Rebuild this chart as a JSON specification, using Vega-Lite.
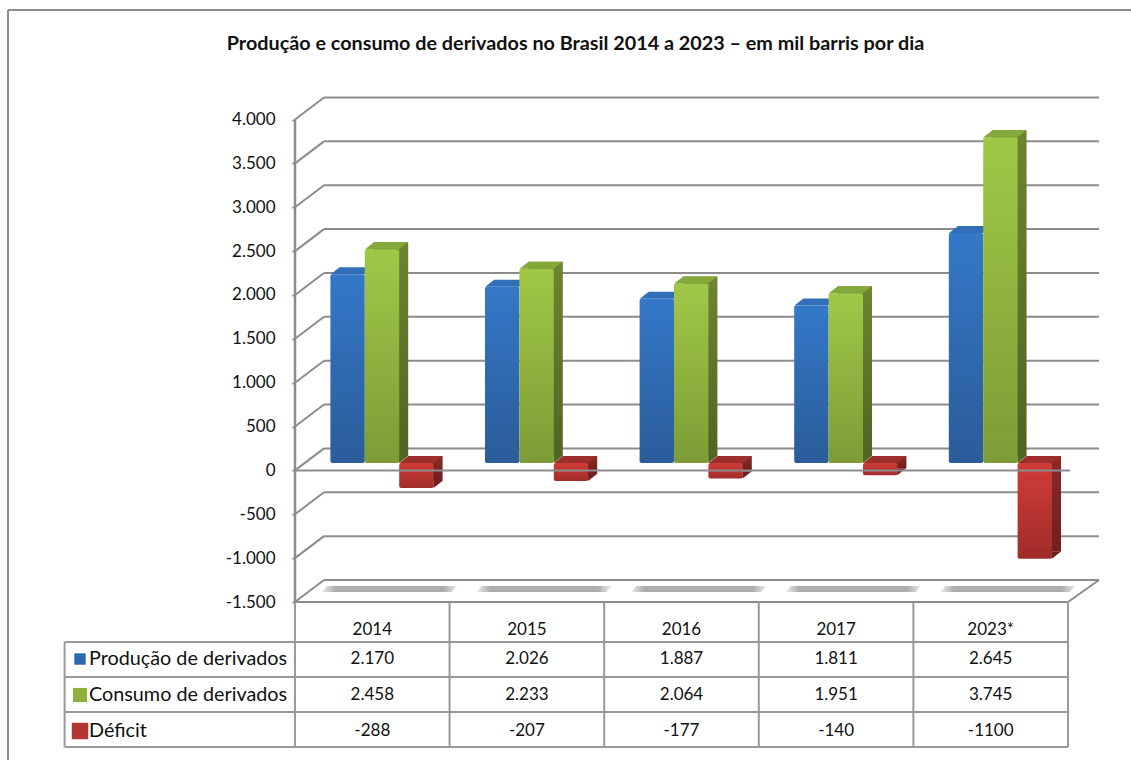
{
  "$schema": "https://vega.github.io/schema/vega-lite/v6.json",
  "width": 1131,
  "height": 760,
  "padding": 0,
  "autosize": {"type": "none"},
  "background": "white",
  "config": {"view": {"stroke": null}, "font": "Lato"},
  "title": {"text": "Produção e consumo de derivados no Brasil 2014 a 2023 – em mil barris por dia", "font": "Lato", "fontSize": 19.8, "fontWeight": "bold", "color": "#111111", "anchor": "middle", "frame": "group", "offset": -54, "dx": 10},
  "datasets": {
    "barras": [
      {"ano": "2014", "serie": "Produção de derivados", "valor": 2170, "rotulo": "2.170"},
      {"ano": "2015", "serie": "Produção de derivados", "valor": 2026, "rotulo": "2.026"},
      {"ano": "2016", "serie": "Produção de derivados", "valor": 1887, "rotulo": "1.887"},
      {"ano": "2017", "serie": "Produção de derivados", "valor": 1811, "rotulo": "1.811"},
      {"ano": "2023*", "serie": "Produção de derivados", "valor": 2645, "rotulo": "2.645"},
      {"ano": "2014", "serie": "Consumo de derivados", "valor": 2458, "rotulo": "2.458"},
      {"ano": "2015", "serie": "Consumo de derivados", "valor": 2233, "rotulo": "2.233"},
      {"ano": "2016", "serie": "Consumo de derivados", "valor": 2064, "rotulo": "2.064"},
      {"ano": "2017", "serie": "Consumo de derivados", "valor": 1951, "rotulo": "1.951"},
      {"ano": "2023*", "serie": "Consumo de derivados", "valor": 3745, "rotulo": "3.745"},
      {"ano": "2014", "serie": "Déficit", "valor": -288, "rotulo": "-288"},
      {"ano": "2015", "serie": "Déficit", "valor": -207, "rotulo": "-207"},
      {"ano": "2016", "serie": "Déficit", "valor": -177, "rotulo": "-177"},
      {"ano": "2017", "serie": "Déficit", "valor": -140, "rotulo": "-140"},
      {"ano": "2023*", "serie": "Déficit", "valor": -1100, "rotulo": "-1100"}
    ],
    "niveis": [{"v": -1500}, {"v": -1000}, {"v": -500}, {"v": 0}, {"v": 500}, {"v": 1000}, {"v": 1500}, {"v": 2000}, {"v": 2500}, {"v": 3000}, {"v": 3500}, {"v": 4000}],
    "anos": [{"ano": "2014", "linha": "ano"}, {"ano": "2015", "linha": "ano"}, {"ano": "2016", "linha": "ano"}, {"ano": "2017", "linha": "ano"}, {"ano": "2023*", "linha": "ano"}],
    "series": [{"linha": "Produção de derivados"}, {"linha": "Consumo de derivados"}, {"linha": "Déficit"}],
    "linhasTabela": [{"l": 1}, {"l": 2}, {"l": 3}, {"l": 4}],
    "colunasTabela": [{"c": 0}, {"c": 1}, {"c": 2}, {"c": 3}, {"c": 4}, {"c": 5}]
  },
  "resolve": {"scale": {"x": "independent", "y": "independent", "xOffset": "independent"}, "axis": {"x": "independent", "y": "independent"}},
  "layer": [
    {
      "description": "Moldura da figura: apenas as bordas superior e esquerda",
      "data": {"values": [{"borda": "topo"}]},
      "encoding": {
        "x": {"datum": 0, "type": "quantitative", "scale": {"domain": [0, 1], "range": [8, 1131]}, "axis": null},
        "y": {"datum": 0, "type": "quantitative", "scale": {"domain": [0, 1], "range": [10, 760]}, "axis": null}
      },
      "layer": [
        {"mark": {"type": "rule", "stroke": "#8c8c8c", "strokeWidth": 2}, "encoding": {"x2": {"datum": 1}}},
        {"mark": {"type": "rule", "stroke": "#8c8c8c", "strokeWidth": 2}, "encoding": {"y2": {"datum": 1}}}
      ]
    },
    {
      "description": "Paredes em perspectiva: linhas de grade, diagonais e piso",
      "data": {"name": "niveis"},
      "encoding": {
        "x": {"datum": 0, "type": "quantitative", "scale": {"domain": [0, 5], "range": [295, 1068]}, "axis": null},
        "y": {
          "field": "v", "type": "quantitative",
          "scale": {"domain": [-1500, 4000], "range": [602, 119.5], "nice": false, "zero": false},
          "axis": {
            "offset": -295, "title": null, "grid": false, "domain": false,
            "values": [-1500, -1000, -500, 0, 500, 1000, 1500, 2000, 2500, 3000, 3500, 4000],
            "labelExpr": "replace(replace(format(datum.value, ','), ',', '.'), '−', '-')",
            "labelFont": "Lato", "labelFontSize": 17, "labelColor": "#111111", "labelPadding": 17,
            "tickColor": "#8c8c8c", "tickSize": 3, "tickWidth": 2
          }
        }
      },
      "layer": [
        {"mark": {"type": "rule", "stroke": "#8c8c8c", "strokeWidth": 2, "xOffset": 29, "x2Offset": 31, "yOffset": -22}, "encoding": {"x2": {"datum": 5}}},
        {"mark": {"type": "rule", "stroke": "#8c8c8c", "strokeWidth": 2, "x2Offset": 29, "y2Offset": -22}, "encoding": {"x2": {"datum": 0}, "y2": {"field": "v"}}},
        {"transform": [{"filter": "datum.v === -1500"}], "mark": {"type": "rule", "stroke": "#8c8c8c", "strokeWidth": 2, "x2Offset": 31, "y2Offset": -22}, "encoding": {"x": {"datum": 5}, "x2": {"datum": 5}, "y2": {"field": "v"}}},
        {"transform": [{"filter": "datum.v === -1500"}], "mark": {"type": "rule", "stroke": "#8c8c8c", "strokeWidth": 2}, "encoding": {"x2": {"datum": 5}}}
      ]
    },
    {
      "description": "Lateral do déficit, deslocada em profundidade, e sombras no piso",
      "data": {"name": "barras"},
      "encoding": {
        "x": {"field": "ano", "type": "nominal", "scale": {"type": "band", "domain": ["2014", "2015", "2016", "2017", "2023*"], "range": [313.7, 1086.7], "paddingInner": 0, "paddingOuter": 0}, "axis": null},
        "xOffset": {"field": "serie", "type": "nominal", "scale": {"domain": ["Produção de derivados", "Consumo de derivados", "Déficit"], "paddingInner": 0, "paddingOuter": 0.747}},
        "y": {"field": "valor", "type": "quantitative", "scale": {"domain": [-1500, 4000], "range": [601, 122.5], "nice": false, "zero": false}, "axis": null}
      },
      "layer": [
        {
          "transform": [{"filter": "datum.serie === 'Consumo de derivados'"}],
          "mark": {"type": "point", "filled": true, "opacity": 1, "size": 4, "yOffset": -12, "shape": "M-69,3 L61,3 L66,-3 L-64,-3 Z", "fill": {"gradient": "linear", "x1": 0, "y1": 0, "x2": 1, "y2": 0, "stops": [{"offset": 0, "color": "#ececec"}, {"offset": 0.1, "color": "#adadad"}, {"offset": 0.9, "color": "#adadad"}, {"offset": 1, "color": "#ececec"}]}},
          "encoding": {"y": {"datum": -1500}}
        },
        {
          "transform": [{"filter": "datum.serie === 'Déficit'"}],
          "layer": [
            {"mark": {"type": "bar", "yOffset": -14.5, "y2Offset": -14.5, "fill": {"gradient": "linear", "x1": 0, "y1": 0, "x2": 0, "y2": 1, "stops": [{"offset": 0, "color": "#8a2a27"}, {"offset": 1, "color": "#6e201e"}]}}, "encoding": {"y2": {"datum": 0}}},
            {"mark": {"type": "point", "filled": true, "opacity": 1, "size": 4, "yOffset": -7.5, "shape": "M8,0 L8,-7 L17,-7 Z", "fill": "#6e201e"}}
          ]
        }
      ]
    },
    {
      "description": "Faces frontais e topos do déficit e da produção",
      "data": {"name": "barras"},
      "encoding": {
        "x": {"field": "ano", "type": "nominal", "scale": {"type": "band", "domain": ["2014", "2015", "2016", "2017", "2023*"], "range": [304.7, 1077.7], "paddingInner": 0, "paddingOuter": 0}, "axis": null},
        "xOffset": {"field": "serie", "type": "nominal", "scale": {"domain": ["Produção de derivados", "Consumo de derivados", "Déficit"], "paddingInner": 0, "paddingOuter": 0.747}},
        "y": {"field": "valor", "type": "quantitative", "scale": {"domain": [-1500, 4000], "range": [601, 122.5], "nice": false, "zero": false}, "axis": null}
      },
      "layer": [
        {
          "transform": [{"filter": "datum.serie === 'Déficit'"}],
          "layer": [
            {"mark": {"type": "bar", "cornerRadius": 2, "yOffset": -7.5, "y2Offset": -7.5, "fill": {"gradient": "linear", "x1": 0, "y1": 0, "x2": 0, "y2": 1, "stops": [{"offset": 0, "color": "#d03c38"}, {"offset": 1, "color": "#a02c2a"}]}}, "encoding": {"y2": {"datum": 0}}},
            {"mark": {"type": "point", "filled": true, "opacity": 1, "size": 4, "yOffset": -7.5, "shape": "M-17,0 L17,0 L26,-7 L-8,-7 Z", "fill": "#9e2e2b"}, "encoding": {"y": {"datum": 0}}}
          ]
        },
        {
          "transform": [{"filter": "datum.serie === 'Produção de derivados'"}],
          "layer": [
            {"mark": {"type": "point", "filled": true, "opacity": 1, "size": 4, "yOffset": -7.5, "shape": "M-17,0 L17,0 L26,-7 L-8,-7 Z", "fill": "#3170b8"}},
            {"mark": {"type": "bar", "cornerRadius": 2, "yOffset": -7.5, "y2Offset": -7.5, "fill": {"gradient": "linear", "x1": 0, "y1": 0, "x2": 0, "y2": 1, "stops": [{"offset": 0, "color": "#3478c8"}, {"offset": 1, "color": "#2a5c98"}]}}, "encoding": {"y2": {"datum": 0}}}
          ]
        }
      ]
    },
    {
      "description": "Lateral do consumo, à frente do topo do déficit",
      "data": {"name": "barras"},
      "transform": [{"filter": "datum.serie === 'Consumo de derivados'"}],
      "encoding": {
        "x": {"field": "ano", "type": "nominal", "scale": {"type": "band", "domain": ["2014", "2015", "2016", "2017", "2023*"], "range": [313.7, 1086.7], "paddingInner": 0, "paddingOuter": 0}, "axis": null},
        "xOffset": {"field": "serie", "type": "nominal", "scale": {"domain": ["Produção de derivados", "Consumo de derivados", "Déficit"], "paddingInner": 0, "paddingOuter": 0.747}},
        "y": {"field": "valor", "type": "quantitative", "scale": {"domain": [-1500, 4000], "range": [601, 122.5], "nice": false, "zero": false}, "axis": null}
      },
      "layer": [
        {"mark": {"type": "bar", "yOffset": -14.5, "y2Offset": -14.5, "fill": {"gradient": "linear", "x1": 0, "y1": 0, "x2": 0, "y2": 1, "stops": [{"offset": 0, "color": "#6b8530"}, {"offset": 1, "color": "#4f6624"}]}}, "encoding": {"y2": {"datum": 0}}},
        {"mark": {"type": "point", "filled": true, "opacity": 1, "size": 4, "yOffset": -7.5, "shape": "M8,0 L8,-7 L17,-7 Z", "fill": "#4f6624"}, "encoding": {"y": {"datum": 0}}}
      ]
    },
    {
      "description": "Face frontal e topo do consumo",
      "data": {"name": "barras"},
      "transform": [{"filter": "datum.serie === 'Consumo de derivados'"}],
      "encoding": {
        "x": {"field": "ano", "type": "nominal", "scale": {"type": "band", "domain": ["2014", "2015", "2016", "2017", "2023*"], "range": [304.7, 1077.7], "paddingInner": 0, "paddingOuter": 0}, "axis": null},
        "xOffset": {"field": "serie", "type": "nominal", "scale": {"domain": ["Produção de derivados", "Consumo de derivados", "Déficit"], "paddingInner": 0, "paddingOuter": 0.747}},
        "y": {"field": "valor", "type": "quantitative", "scale": {"domain": [-1500, 4000], "range": [601, 122.5], "nice": false, "zero": false}, "axis": null}
      },
      "layer": [
        {"mark": {"type": "bar", "cornerRadius": 2, "yOffset": -7.5, "y2Offset": -7.5, "fill": {"gradient": "linear", "x1": 0, "y1": 0, "x2": 0, "y2": 1, "stops": [{"offset": 0, "color": "#a0c846"}, {"offset": 1, "color": "#7d9c36"}]}}, "encoding": {"y2": {"datum": 0}}},
        {"mark": {"type": "point", "filled": true, "opacity": 1, "size": 4, "yOffset": -7.5, "shape": "M-17,0 L17,0 L26,-7 L-8,-7 Z", "fill": "#84a83a"}}
      ]
    },
    {
      "description": "Linha do zero à frente das barras",
      "data": {"values": [{"v": 0}]},
      "mark": {"type": "rule", "stroke": "#8c8c8c", "strokeWidth": 2, "x2Offset": 2},
      "encoding": {
        "x": {"datum": 0, "type": "quantitative", "scale": {"domain": [0, 5], "range": [295, 1068]}, "axis": null},
        "x2": {"datum": 5},
        "y": {"field": "v", "type": "quantitative", "scale": {"domain": [-1500, 4000], "range": [602, 119.5], "nice": false, "zero": false}, "axis": null}
      }
    },
    {
      "description": "Grade da tabela de dados",
      "layer": [
        {
          "data": {"name": "linhasTabela"},
          "mark": {"type": "rule", "stroke": "#999999", "strokeWidth": 2},
          "encoding": {
            "x": {"datum": -1.49, "type": "quantitative", "scale": {"domain": [-1.49, 5], "range": [64.6, 1068], "zero": false, "nice": false}, "axis": null},
            "x2": {"datum": 5},
            "y": {"field": "l", "type": "quantitative", "scale": {"domain": [-0.143, 4], "range": [602, 747], "zero": false, "nice": false}, "axis": null}
          }
        },
        {
          "data": {"name": "colunasTabela"},
          "mark": {"type": "rule", "stroke": "#999999", "strokeWidth": 2},
          "encoding": {
            "x": {"field": "c", "type": "quantitative", "scale": {"domain": [-1.49, 5], "range": [64.6, 1068], "zero": false, "nice": false}, "axis": null},
            "y": {"datum": -0.143, "type": "quantitative", "scale": {"domain": [-0.143, 4], "range": [602, 747], "zero": false, "nice": false}, "axis": null},
            "y2": {"datum": 4}
          }
        },
        {
          "data": {"values": [{"c": -1.49}]},
          "mark": {"type": "rule", "stroke": "#999999", "strokeWidth": 2},
          "encoding": {
            "x": {"field": "c", "type": "quantitative", "scale": {"domain": [-1.49, 5], "range": [64.6, 1068], "zero": false, "nice": false}, "axis": null},
            "y": {"datum": 1, "type": "quantitative", "scale": {"domain": [-0.143, 4], "range": [602, 747], "zero": false, "nice": false}, "axis": null},
            "y2": {"datum": 4}
          }
        }
      ]
    },
    {
      "description": "Parede frontal esquerda do eixo",
      "data": {"values": [{"v": 4000}]},
      "mark": {"type": "rule", "stroke": "#8c8c8c", "strokeWidth": 2.5},
      "encoding": {
        "x": {"datum": 0, "type": "quantitative", "scale": {"domain": [0, 5], "range": [295, 1068]}, "axis": null},
        "y": {"field": "v", "type": "quantitative", "scale": {"domain": [-1500, 4000], "range": [602, 119.5], "nice": false, "zero": false}, "axis": null},
        "y2": {"datum": -1500}
      }
    },
    {
      "description": "Textos da tabela de dados",
      "encoding": {
        "x": {"field": "ano", "type": "nominal", "scale": {"type": "band", "domain": ["2014", "2015", "2016", "2017", "2023*"], "range": [295, 1068], "paddingInner": 0, "paddingOuter": 0}, "axis": null},
        "y": {"field": "linha", "type": "nominal", "scale": {"type": "band", "domain": ["ano", "Produção de derivados", "Consumo de derivados", "Déficit"], "range": [605, 749], "paddingInner": 0, "paddingOuter": 0}, "axis": null}
      },
      "layer": [
        {"data": {"name": "anos"}, "mark": {"type": "text", "font": "Lato", "fontSize": 17, "color": "#111111", "yOffset": 7}, "encoding": {"text": {"field": "ano"}}},
        {"data": {"name": "barras"}, "mark": {"type": "text", "font": "Lato", "fontSize": 17, "color": "#111111"}, "encoding": {"y": {"field": "serie"}, "text": {"field": "rotulo"}}}
      ]
    },
    {
      "description": "Cabeçalho das linhas com as chaves de cor",
      "data": {"name": "series"},
      "encoding": {
        "x": {"datum": 0, "type": "quantitative", "scale": {"domain": [0, 1], "range": [89, 295]}, "axis": null},
        "y": {"field": "linha", "type": "nominal", "scale": {"type": "band", "domain": ["ano", "Produção de derivados", "Consumo de derivados", "Déficit"], "range": [605, 749], "paddingInner": 0, "paddingOuter": 0}, "axis": null}
      },
      "layer": [
        {"mark": {"type": "text", "font": "Lato", "fontSize": 19.8, "align": "left", "color": "#111111"}, "encoding": {"text": {"field": "linha"}}},
        {
          "mark": {"type": "point", "shape": "square", "filled": true, "opacity": 1, "xOffset": -9},
          "encoding": {
            "color": {"field": "linha", "type": "nominal", "scale": {"domain": ["Produção de derivados", "Consumo de derivados", "Déficit"], "range": ["#2f69ad", "#8fb03c", "#b53533"]}, "legend": null},
            "size": {"field": "linha", "type": "nominal", "scale": {"domain": ["Produção de derivados", "Consumo de derivados", "Déficit"], "range": [130, 270, 270]}, "legend": null}
          }
        }
      ]
    }
  ]
}
